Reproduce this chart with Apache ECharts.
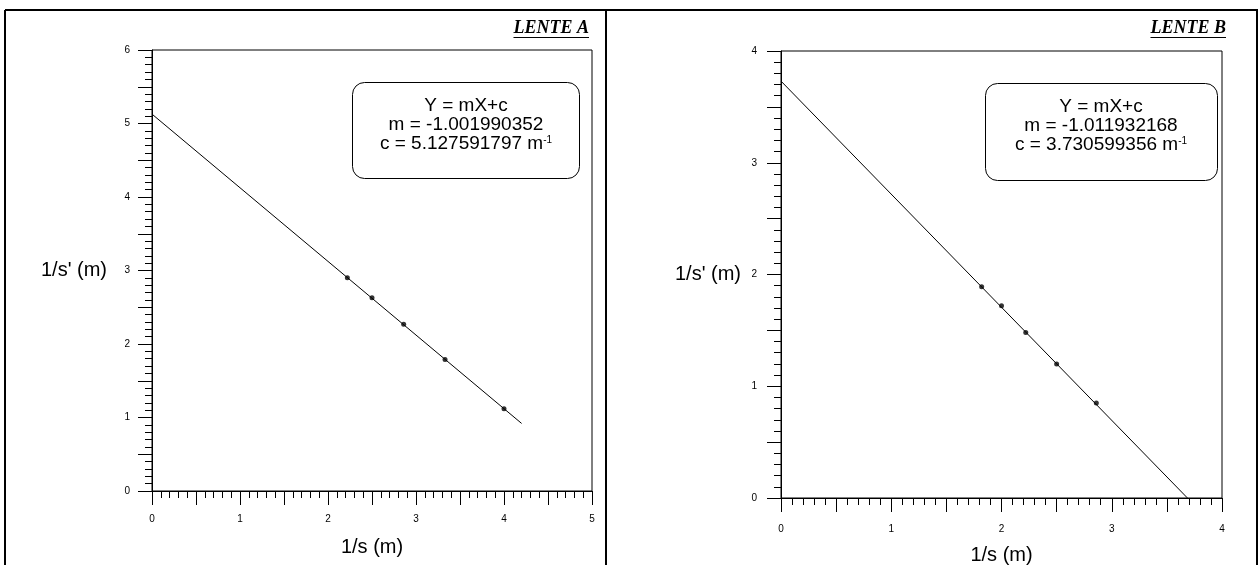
<!DOCTYPE html>
<html>
<head>
<meta charset="utf-8">
<script src="https://cdn.jsdelivr.net/npm/echarts@6/dist/echarts.min.js"></script>
<style>
  html, body { margin: 0; padding: 0; background: #fff; }
  #chart { width: 1260px; height: 565px; }
</style>
</head>
<body>
<div id="chart"></div>
<script>
// datos
var pointsA = [[2.22, 2.90], [2.50, 2.63], [2.86, 2.27], [3.33, 1.79], [4.00, 1.12]];
var pointsB = [[1.82, 1.89], [2.00, 1.72], [2.22, 1.48], [2.50, 1.20], [2.86, 0.85]];
var fitA = { m: -1.001990352, c: 5.127591797 };
var fitB = { m: -1.011932168, c: 3.730599356 };
var fitXA = [0, 4.2];
var fitXB = [0, 3.686];
var xMaxA = 5, yMaxA = 6;
var xMaxB = 4, yMaxB = 4;
var titles = ['LENTE A', 'LENTE B'];

var FONT = '"Liberation Sans", Arial, sans-serif';
var SERIF = '"Liberation Serif", "Times New Roman", serif';

function fitLine(f, xs) {
  return xs.map(function (x) { return [x, f.m * x + f.c]; });
}

function intLabel(v) {
  return Number.isInteger(v) ? String(v) : '';
}

function axis(idx, max, name, gap, margin, isY) {
  var a = {
    type: 'value',
    gridIndex: idx,
    min: 0,
    max: max,
    interval: 0.5,
    name: name,
    nameLocation: 'middle',
    nameGap: gap,
    nameTextStyle: { color: '#000', fontFamily: FONT, fontSize: 20 },
    axisLine: { show: true, onZero: false, lineStyle: { color: '#000', width: 1 } },
    axisTick: { show: true, length: 14, lineStyle: { color: '#000', width: 1 } },
    minorTick: { show: true, splitNumber: 5, length: 7, lineStyle: { color: '#000', width: 1 } },
    axisLabel: { color: '#000', fontFamily: FONT, fontSize: 10, margin: margin, formatter: intLabel },
    splitLine: { show: false }
  };
  if (isY) a.nameRotate = 0;
  return a;
}

// medir ancho de titulos para el subrayado
var ctx = document.createElement('canvas').getContext('2d');
ctx.font = 'italic bold 18px ' + SERIF;
var wA = ctx.measureText(titles[0]).width;
var wB = ctx.measureText(titles[1]).width;

function boxText(f) {
  return '{a|Y = mX+c}\n{a|m = ' + f.m.toFixed(9) + '}\n{a|c = ' + f.c.toFixed(9) + ' m}{s|-1}';
}
var rich = {
  a: { fontSize: 19, lineHeight: 19, fontFamily: FONT, fill: '#000' },
  s: { fontSize: 10, lineHeight: 19, fontFamily: FONT, fill: '#000', verticalAlign: 'top', padding: [1, 0, 0, 0] }
};

var myChart = echarts.init(document.getElementById('chart'));
var option = {
  animation: false,
  backgroundColor: '#fff',
  grid: [
    { left: 152, top: 50, width: 440, height: 441, show: true, borderColor: '#000', borderWidth: 1,
      outerBoundsMode: 'none', containLabel: false },
    { left: 781, top: 51, width: 441, height: 447, show: true, borderColor: '#000', borderWidth: 1,
      outerBoundsMode: 'none', containLabel: false }
  ],
  xAxis: [
    axis(0, xMaxA, '1/s (m)', 46, 23, false),
    axis(1, xMaxB, '1/s (m)', 47, 26, false)
  ],
  yAxis: [
    axis(0, yMaxA, "1/s' (m)", 45, 22, true),
    axis(1, yMaxB, "1/s' (m)", 40, 24, true)
  ],
  series: [
    { type: 'line', xAxisIndex: 0, yAxisIndex: 0, data: fitLine(fitA, fitXA), symbol: 'none',
      lineStyle: { color: '#000', width: 1 } },
    { type: 'scatter', xAxisIndex: 0, yAxisIndex: 0, data: pointsA, symbol: 'circle', symbolSize: 5,
      itemStyle: { color: '#000' } },
    { type: 'line', xAxisIndex: 1, yAxisIndex: 1, data: fitLine(fitB, fitXB), symbol: 'none',
      lineStyle: { color: '#000', width: 1 } },
    { type: 'scatter', xAxisIndex: 1, yAxisIndex: 1, data: pointsB, symbol: 'circle', symbolSize: 5,
      itemStyle: { color: '#000' } }
  ],
  graphic: [
    // marco de la tabla
    { type: 'line', shape: { x1: 5, y1: 10, x2: 1258, y2: 10 }, style: { stroke: '#000', lineWidth: 2 } },
    { type: 'line', shape: { x1: 5, y1: 10, x2: 5, y2: 565 }, style: { stroke: '#000', lineWidth: 2 } },
    { type: 'line', shape: { x1: 606, y1: 10, x2: 606, y2: 565 }, style: { stroke: '#000', lineWidth: 2 } },
    { type: 'line', shape: { x1: 1257, y1: 10, x2: 1257, y2: 565 }, style: { stroke: '#000', lineWidth: 2 } },
    // titulos
    { type: 'text', x: 589, y: 28, style: { text: titles[0], align: 'right', verticalAlign: 'middle',
      font: 'italic bold 18px ' + SERIF, fill: '#000' } },
    { type: 'line', shape: { x1: 589 - wA, y1: 37.5, x2: 589, y2: 37.5 }, style: { stroke: '#000', lineWidth: 1 } },
    { type: 'text', x: 1226, y: 28, style: { text: titles[1], align: 'right', verticalAlign: 'middle',
      font: 'italic bold 18px ' + SERIF, fill: '#000' } },
    { type: 'line', shape: { x1: 1226 - wB, y1: 37.5, x2: 1226, y2: 37.5 }, style: { stroke: '#000', lineWidth: 1 } },
    // cajas de la ecuacion
    { type: 'rect', shape: { x: 352.5, y: 82.5, width: 227, height: 96, r: 12 },
      style: { fill: '#fff', stroke: '#000', lineWidth: 1 } },
    { type: 'text', x: 466, y: 125, style: { text: boxText(fitA), rich: rich, align: 'center', verticalAlign: 'middle' } },
    { type: 'rect', shape: { x: 985.5, y: 83.5, width: 232, height: 97, r: 12 },
      style: { fill: '#fff', stroke: '#000', lineWidth: 1 } },
    { type: 'text', x: 1101, y: 126, style: { text: boxText(fitB), rich: rich, align: 'center', verticalAlign: 'middle' } }
  ]
};
myChart.setOption(option);
</script>
</body>
</html>
